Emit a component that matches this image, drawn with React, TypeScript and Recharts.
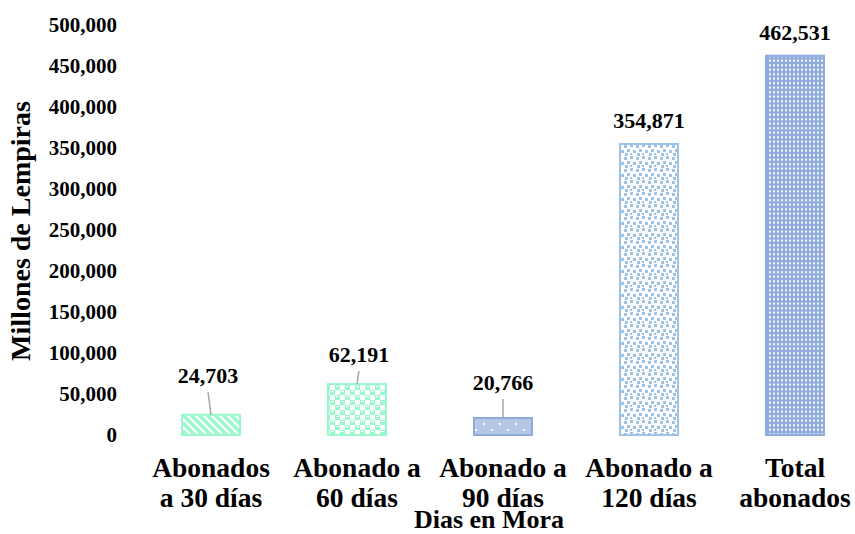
import { Bar, BarChart, Cell, LabelList, XAxis, YAxis } from 'recharts'

const categories = [
  'Abonados\na 30 días',
  'Abonado a\n60 días',
  'Abonado a\n90 días',
  'Abonado a\n120 días',
  'Total\nabonados',
]
const values = [24703, 62191, 20766, 354871, 462531]
const yTicks = [0, 50000, 100000, 150000, 200000, 250000, 300000, 350000, 400000, 450000, 500000]

const data = categories.map((name, i) => ({ name, value: values[i] }))

const FONT = 'Liberation Serif, DejaVu Serif, serif'
const GREEN = '#99f8cc'
const BLUE = '#8faadc'
const LIGHT_BLUE = '#9dc3e6'

const fills = ['url(#pStripe)', 'url(#pChecker)', 'url(#pDots)', 'url(#pConfetti)', 'url(#pGrid)']
const strokes = [GREEN, GREEN, BLUE, LIGHT_BLUE, BLUE]

// label placement: baseline lift above bar top, horizontal nudge, leader line
const labelLift = [32, 22, 28, 16, 16]
const labelNudge = [-3, 2, 0, 0, 0]
const leader = [true, true, true, false, false]

const fmt = (v: number) => v.toLocaleString('en-US')

const ValueLabel = (props: any) => {
  const { x, y, width, value, index } = props
  const cx = x + width / 2
  const tx = cx + labelNudge[index]
  const by = y - labelLift[index]
  return (
    <g>
      {leader[index] && (
        <line x1={tx} y1={by + 9} x2={cx} y2={y} stroke='#a6a6a6' strokeWidth={1.5} />
      )}
      <text x={tx} y={by} textAnchor='middle' style={{ fontFamily: FONT }} fontWeight='bold' fontSize={22} fill='#000'>
        {fmt(value)}
      </text>
    </g>
  )
}

const CategoryTick = (props: any) => {
  const { x, y, payload } = props
  const lines = String(payload.value).split('\n')
  return (
    <text textAnchor='middle' style={{ fontFamily: FONT }} fontWeight='bold' fontSize={27.5} fill='#000'>
      {lines.map((l, i) => (
        <tspan key={i} x={x} y={y + 42 + i * 30}>
          {l}
        </tspan>
      ))}
    </text>
  )
}

export default function App() {
  return (
    <div style={{ position: 'absolute', left: 0, top: 0, width: 855, height: 534, overflow: 'hidden', background: '#fff', fontFamily: FONT }}>
      <BarChart width={870} height={534} data={data} margin={{ top: 25, right: 2, left: 0, bottom: 0 }} style={{ fontFamily: FONT }}>
        <defs>
          <pattern id='pStripe' patternUnits='userSpaceOnUse' width={8} height={8}>
            <rect width={8} height={8} fill='#fff' />
            <path d='M-1,-1 L9,9 M-5,3 L1,9 M3,-5 L9,1' stroke={GREEN} strokeWidth={3.4} />
          </pattern>
          <pattern id='pChecker' patternUnits='userSpaceOnUse' width={10} height={10}>
            <rect width={10} height={10} fill={GREEN} />
            <rect x={0} y={5} width={5} height={5} fill='#fff' />
            <rect x={5} y={0} width={5} height={5} fill='#fff' />
            <rect x={1} y={1} width={3} height={1} fill='#fff' />
            <rect x={6} y={6} width={3} height={1} fill='#fff' />
          </pattern>
          <pattern id='pDots' patternUnits='userSpaceOnUse' width={16} height={12}>
            <rect width={16} height={12} fill='#b4c7e7' />
            <rect x={3} y={3} width={2} height={2} fill='#fff' />
            <rect x={11} y={9} width={2} height={2} fill='#fff' />
          </pattern>
          <pattern id='pConfetti' patternUnits='userSpaceOnUse' width={12} height={12}>
            <rect width={12} height={12} fill='#fff' />
            <rect x={0} y={1} width={3} height={3} fill={LIGHT_BLUE} />
            <rect x={6} y={0} width={3} height={3} fill={LIGHT_BLUE} />
            <rect x={3} y={5} width={3} height={3} fill={LIGHT_BLUE} />
            <rect x={9} y={6} width={3} height={3} fill={LIGHT_BLUE} />
            <rect x={1} y={9} width={3} height={3} fill={LIGHT_BLUE} />
            <rect x={6} y={9} width={2} height={2} fill={LIGHT_BLUE} />
          </pattern>
          <pattern id='pGrid' patternUnits='userSpaceOnUse' width={4} height={4.5}>
            <rect width={4} height={4.5} fill={BLUE} />
            <rect x={1} y={1.2} width={2} height={2} fill='#fff' />
          </pattern>
        </defs>
        <XAxis
          dataKey='name'
          height={99}
          axisLine={false}
          tickLine={false}
          tickSize={0}
          tickMargin={0}
          interval={0}
          tick={<CategoryTick />}
          label={{
            content: (p: any) => (
              <text
                x={p.viewBox.x + p.viewBox.width / 2 - 14}
                y={p.viewBox.y + 93}
                textAnchor='middle'
                style={{ fontFamily: FONT }}
                fontWeight='bold'
                fontSize={26}
                fill='#000'
              >
                Dias en Mora
              </text>
            ),
          }}
        />
        <YAxis
          width={138}
          domain={[0, 500000]}
          ticks={yTicks}
          interval={0}
          axisLine={false}
          tickLine={false}
          tickSize={0}
          tickMargin={21}
          tickFormatter={(v: number) => fmt(v)}
          tick={{ fontFamily: FONT, fontWeight: 'bold', fontSize: 21, fill: '#000' }}
          label={{
            content: () => (
              <text
                x={30}
                y={231}
                transform='rotate(-90 30 231)'
                textAnchor='middle'
                style={{ fontFamily: FONT }}
                fontWeight='bold'
                fontSize={28}
                fill='#000'
              >
                Millones de Lempiras
              </text>
            ),
          }}
        />
        <Bar dataKey='value' barSize={58} isAnimationActive={false}>
          {data.map((d, i) => (
            <Cell key={d.name} fill={fills[i]} stroke={strokes[i]} strokeWidth={2} />
          ))}
          <LabelList dataKey='value' content={<ValueLabel />} />
        </Bar>
      </BarChart>
    </div>
  )
}
